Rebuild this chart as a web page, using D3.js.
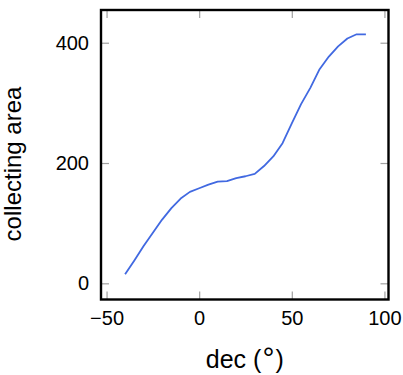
<!DOCTYPE html>
<html><head><meta charset="utf-8">
<script src="https://cdn.jsdelivr.net/npm/d3@7"></script>
<style>body{margin:0;background:#fff}</style></head><body>
<svg id="c" width="403" height="375"></svg>
<script>
const dec  = [-40,-35,-30,-25,-20,-15,-10,-5,0,5,10,15,20,25,30,35,40,45,50,55,60,65,70,75,80,85,90];
const area = [15,38,62,84,106,125,141,152,158,164,169,170,175,178,182,195,211,233,266,298,325,356,377,394,407,414,414];
const xTicks = [-50,0,50,100];
const yTicks = [0,200,400];
const xLabelParts = ["dec (", "°", ")"];
const yLabel = "collecting area";

const svg = d3.select("#c");
const L = 101, R = 388.5, T = 10, B = 299.5;
const FONT = "'Liberation Sans', Arial, sans-serif";
const x = d3.scaleLinear().domain([-53, 102.2]).range([L, R]);
const y = d3.scaleLinear().domain([-26.9, 454.4]).range([B, T]);

svg.append("rect").attr("width",403).attr("height",375).attr("fill","#fff");

function styleAxis(g){
  g.select(".domain").remove();
  g.selectAll(".tick line").attr("stroke","#a0a0a0").attr("stroke-width",1.2);
  g.selectAll("text").attr("fill","#000");
  g.attr("font-family",FONT).attr("font-size",20);
}
const TS = 8;
svg.append("g").attr("transform",`translate(0,${B})`)
  .call(d3.axisBottom(x).tickValues(xTicks).tickSize(-TS).tickPadding(11)).call(styleAxis);
svg.append("g").attr("transform",`translate(0,${T})`)
  .call(d3.axisTop(x).tickValues(xTicks).tickSize(-TS).tickFormat("")).call(styleAxis);
svg.append("g").attr("transform",`translate(${L},0)`)
  .call(d3.axisLeft(y).tickValues(yTicks).tickSize(-TS).tickPadding(12)).call(styleAxis);
svg.append("g").attr("transform",`translate(${R},0)`)
  .call(d3.axisRight(y).tickValues(yTicks).tickSize(-TS).tickFormat("")).call(styleAxis);

const pts = dec.map((d,i)=>[d, area[i]]);
svg.append("path").datum(pts)
  .attr("fill","none").attr("stroke","#4169e1").attr("stroke-width",1.8)
  .attr("stroke-linejoin","round")
  .attr("d", d3.line().x(d=>x(d[0])).y(d=>y(d[1])));

svg.append("rect").attr("x",L).attr("y",T).attr("width",R-L).attr("height",B-T)
  .attr("fill","none").attr("stroke","#000").attr("stroke-width",2.4);

const xl = svg.append("text").attr("x",(L+R)/2).attr("y",368).attr("text-anchor","middle")
  .attr("font-family",FONT).attr("font-size",25);
xl.append("tspan").text(xLabelParts[0]);
xl.append("tspan").attr("font-size",30).attr("dx",1).text(xLabelParts[1]);
xl.append("tspan").attr("dx",1).text(xLabelParts[2]);
svg.append("text").attr("transform","translate(21,164) rotate(-90)").attr("text-anchor","middle")
  .attr("font-family",FONT).attr("font-size",24).text(yLabel);
</script>
</body></html>
